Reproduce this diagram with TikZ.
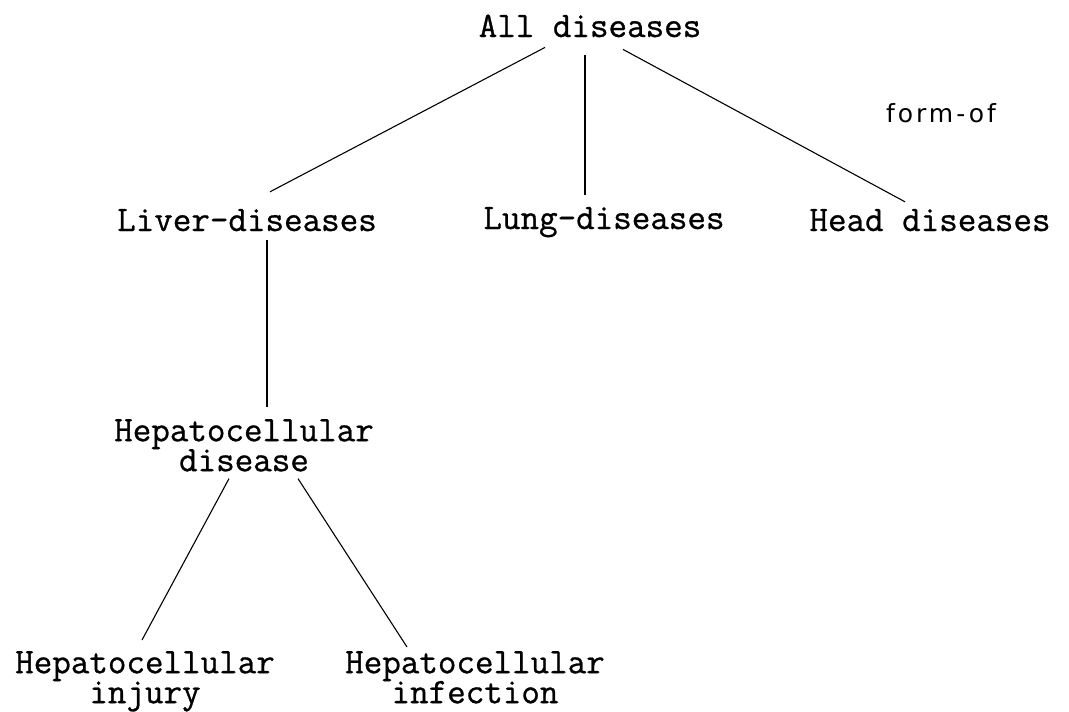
\documentclass[tikz,border=0pt]{standalone}
\usepackage{fontspec}
\newfontfamily\relfont[LetterSpace=12]{DejaVu Sans}
\newfontfamily\typer[FakeBold=0.8]{Latin Modern Mono}
% lines of a label keep their fixed spacing even when they crowd
\lineskiplimit=-30pt
\begin{document}
\begin{tikzpicture}[x=1pt,y=-1pt,
  term/.style={font=\fontsize{36}{30}\typer,
               inner sep=0pt, align=center},
  link/.style={draw=black, line width=1.1pt}]
\useasboundingbox (0,0) rectangle (1069,712);

% disease hierarchy
\node[term, anchor=base]  (all)   at (590,37)  {All diseases};
\node[term, anchor=base]  (liver) at (247,231) {Liver-diseases};
\node[term, anchor=base]  (lung)  at (604,229) {Lung-diseases};
\node[term, anchor=base]  (head)  at (930,231) {Head diseases};
\node[term, anchor=north] (hepd)  at (244,419) {Hepatocellular\\disease};
\node[term, anchor=north] (inj)   at (145,651) {Hepatocellular\\injury};
\node[term, anchor=north] (inf)   at (475,651) {Hepatocellular\\infection};

% relation name
\node[font={\fontsize{25}{30}\relfont}, inner sep=0pt, anchor=base] (rel) at (941,122) {form-of};

% links
\draw[link] ([shift={(-45,10)}]all.south) -- ([shift={(23,-17)}]liver.north);
\draw[link] ([shift={(-5,18)}]all.south)  -- ([shift={(-19,-12)}]lung.north);
\draw[link] ([shift={(33,12)}]all.south)  -- ([shift={(-25,-7)}]head.north);
\draw[link] ([shift={(20,9)}]liver.south) -- ([shift={(23,-12)}]hepd.north);
\draw[link] ([shift={(-15,7)}]hepd.south) -- ([shift={(-3,-11)}]inj.north);
\draw[link] ([shift={(54,7)}]hepd.south)  -- ([shift={(-68,-4)}]inf.north);
\end{tikzpicture}
\end{document}
